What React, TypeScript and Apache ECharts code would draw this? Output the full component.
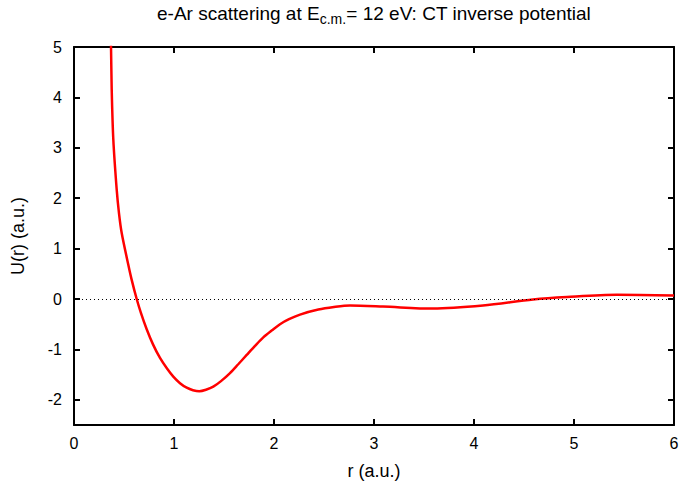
import React, { useEffect, useRef } from "react";
import * as echarts from "echarts";

const rValues = [0.365, 0.37, 0.377, 0.393, 0.427, 0.45, 0.477, 0.543, 0.577, 0.627, 0.67, 0.727, 0.79, 0.86, 0.93, 0.993, 1.06, 1.127, 1.19, 1.253, 1.32, 1.393, 1.47, 1.56, 1.64, 1.727, 1.81, 1.893, 1.98, 2.06, 2.15, 2.26, 2.443, 2.6, 2.76, 3.09, 3.59, 4.09, 4.59, 4.93, 5.43, 6.0];
const uValues = [5.3, 5.02, 4.16, 3.17, 2.17, 1.7, 1.31, 0.68, 0.38, 0.0, -0.28, -0.6, -0.9, -1.17, -1.38, -1.54, -1.67, -1.76, -1.81, -1.83, -1.8, -1.74, -1.63, -1.47, -1.3, -1.11, -0.93, -0.76, -0.62, -0.5, -0.4, -0.31, -0.21, -0.16, -0.13, -0.15, -0.19, -0.13, -0.01, 0.04, 0.085, 0.07];
const xTicks = [0, 1, 2, 3, 4, 5, 6];
const yTicks = [-2, -1, 0, 1, 2, 3, 4, 5];

const FONT = "Liberation Sans, Arial, sans-serif";

export default function App() {
  const ref = useRef<HTMLDivElement>(null);
  useEffect(() => {
    document.body.style.margin = "0";
    if (!ref.current) return;
    const chart = echarts.init(ref.current, null, { renderer: "svg" });
    const axisLine = { show: true, onZero: false, lineStyle: { color: "#000", width: 2 } };
    const axisTick = { show: true, inside: true, length: 6, lineStyle: { color: "#000", width: 2 } };
    const data = rValues.map((r, i) => [r, uValues[i]]);
    chart.setOption({
      animation: false,
      backgroundColor: "#fff",
      textStyle: { fontFamily: FONT },
      grid: { left: 74, right: 11, top: 47, bottom: 61, containLabel: false },
      graphic: [
        {
          type: "text",
          x: 374,
          y: 2,
          style: {
            text: "{a|e-Ar scattering at E}{s|c.m.}{a|= 12 eV: CT inverse potential}",
            align: "center",
            verticalAlign: "top",
            rich: {
              a: { fontSize: 19, fontFamily: FONT, fill: "#000", lineHeight: 22 },
              s: { fontSize: 14, fontFamily: FONT, fill: "#000", lineHeight: 22, padding: [11, 0, 0, 0] },
            },
          },
        },
      ],
      xAxis: [
        {
          type: "value",
          min: 0,
          max: 6,
          position: "bottom",
          axisLine,
          axisTick: { ...axisTick, customValues: xTicks },
          axisLabel: { customValues: xTicks, color: "#000", fontSize: 16, margin: 10, fontFamily: FONT },
          splitLine: { show: false },
          name: "r (a.u.)",
          nameLocation: "middle",
          nameGap: 37,
          nameTextStyle: { color: "#000", fontSize: 18, fontFamily: FONT },
        },
        {
          type: "value",
          min: 0,
          max: 6,
          position: "top",
          axisLine,
          axisTick: { ...axisTick, customValues: xTicks },
          axisLabel: { show: false },
          splitLine: { show: false },
        },
      ],
      yAxis: [
        {
          type: "value",
          min: -2.5,
          max: 5,
          position: "left",
          axisLine,
          axisTick: { ...axisTick, customValues: yTicks },
          axisLabel: { customValues: yTicks, color: "#000", fontSize: 16, margin: 12, fontFamily: FONT },
          splitLine: { show: false },
          name: "U(r) (a.u.)",
          nameLocation: "middle",
          nameGap: 47,
          nameTextStyle: { color: "#000", fontSize: 18, fontFamily: FONT },
        },
        {
          type: "value",
          min: -2.5,
          max: 5,
          position: "right",
          axisLine,
          axisTick: { ...axisTick, customValues: yTicks },
          axisLabel: { show: false },
          splitLine: { show: false },
        },
      ],
      series: [
        {
          type: "line",
          data,
          showSymbol: false,
          smooth: 0.3,
          clip: true,
          lineStyle: { color: "#ff0000", width: 2.5 },
          markLine: {
            silent: true,
            symbol: "none",
            label: { show: false },
            lineStyle: { color: "#000", type: [1, 3], width: 1 },
            data: [{ yAxis: 0 }],
          },
          z: 3,
        },
      ],
    });
    return () => chart.dispose();
  }, []);
  return <div ref={ref} style={{ width: 685, height: 486 }} />;
}
